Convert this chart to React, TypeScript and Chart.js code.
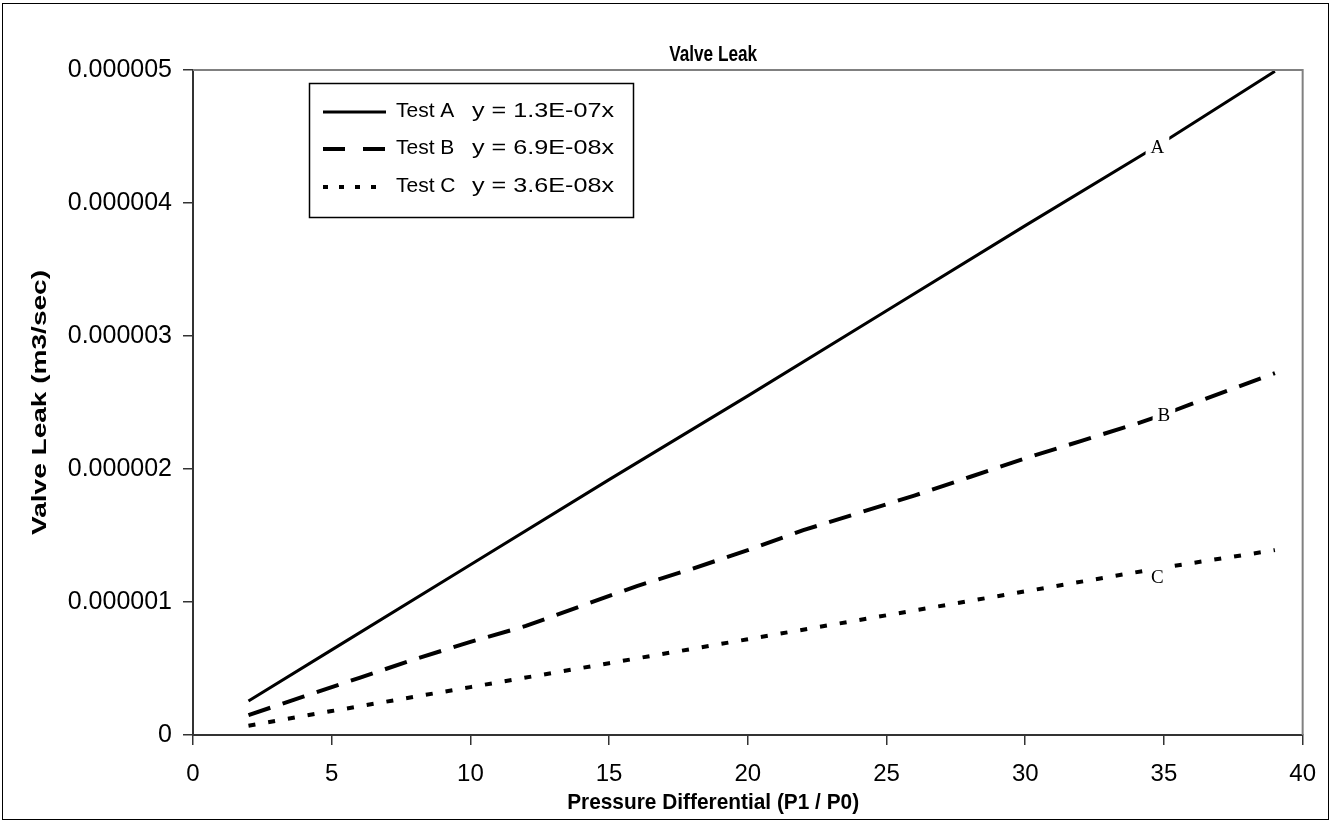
import { useEffect, useRef } from 'react';
import { Chart, registerables } from 'chart.js';

Chart.register(...registerables);

const SANS = "Arial, 'Liberation Sans', sans-serif";
const SERIF = "'Times New Roman', 'Liberation Serif', serif";

const CHART_TITLE = 'Valve Leak';
const X_TITLE = 'Pressure Differential (P1 / P0)';
const Y_TITLE = 'Valve Leak (m3/sec)';
const SERIES_NAMES = ['Test A', 'Test B', 'Test C'];
const TREND_LABELS = ['y = 1.3E-07x', 'y = 6.9E-08x', 'y = 3.6E-08x'];
const POINT_LABELS = ['A', 'B', 'C'];

const X_MIN = 0;
const X_MAX = 40;
const X_STEP = 5;
const Y_MIN = 0;
const Y_MAX = 0.000005;
const Y_STEP = 0.000001;

const PRESSURE_A = [2, 5, 10, 15, 20, 25, 30, 35, 39];
const LEAK_A = [2.56e-7, 6.4e-7, 1.28e-6, 1.92e-6, 2.55e-6, 3.19e-6, 3.83e-6, 4.46e-6, 4.99e-6];

const PRESSURE_B = [2, 4, 6, 8, 10, 12, 14, 16, 18, 20, 22, 24, 26, 28, 30, 32, 34, 35, 36, 39];
const LEAK_B = [1.5e-7, 2.9e-7, 4.3e-7, 5.7e-7, 7.0e-7, 8.2e-7, 9.7e-7, 1.12e-6, 1.25e-6, 1.39e-6, 1.54e-6, 1.67e-6, 1.8e-6, 1.94e-6, 2.08e-6, 2.21e-6, 2.34e-6, 2.41e-6, 2.49e-6, 2.72e-6];

const PRESSURE_C = [2, 5, 10, 15, 20, 25, 30, 35, 39];
const LEAK_C = [7.0e-8, 1.8e-7, 3.6e-7, 5.4e-7, 7.2e-7, 9.0e-7, 1.08e-6, 1.26e-6, 1.39e-6];

const LABEL_AT_X = 35;

const toPoints = (xs: number[], ys: number[]) => xs.map((v, i) => ({ x: v, y: ys[i] }));

const SERIES = [
  { x: PRESSURE_A, y: LEAK_A, dash: [] as number[], width: 3, legendDash: [] as number[], lOff: [-6.5, 5] },
  { x: PRESSURE_B, y: LEAK_B, dash: [23, 13], width: 4, legendDash: [22, 18], lOff: [0, 1] },
  { x: PRESSURE_C, y: LEAK_C, dash: [7, 13], width: 4, legendDash: [5, 11], lOff: [-6.5, 10] },
];

// draw text centred at (x, y) stretched/condensed along its own direction to a target length
function fitText(ctx: any, text: string, x: number, y: number, len: number, rot = 0) {
  const w = ctx.measureText(text).width;
  ctx.save();
  ctx.translate(x, y);
  if (rot) ctx.rotate(rot);
  ctx.scale(len / w, 1);
  ctx.textAlign = 'center';
  ctx.textBaseline = 'middle';
  ctx.fillText(text, 0, 0);
  ctx.restore();
}

const decor = {
  id: 'decor',
  afterDraw(chart: any) {
    const { ctx, chartArea } = chart;
    const { left, top, right, bottom } = chartArea;
    const xs = chart.scales.x;
    const ys = chart.scales.y;
    ctx.save();

    // outer border
    ctx.strokeStyle = '#000';
    ctx.lineWidth = 1;
    ctx.strokeRect(2.5, 3.5, 1326, 816);

    // plot frame top & right
    ctx.strokeStyle = '#808080';
    ctx.lineWidth = 2;
    ctx.beginPath();
    ctx.moveTo(left, top);
    ctx.lineTo(right, top);
    ctx.lineTo(right, bottom);
    ctx.stroke();

    // titles
    ctx.fillStyle = '#000';
    const cx = xs.getPixelForValue(18.75);
    ctx.font = `bold 22px ${SANS}`;
    fitText(ctx, CHART_TITLE, cx, 55, 88);
    ctx.font = `bold 22px ${SANS}`;
    fitText(ctx, X_TITLE, cx, 803, 292);
    ctx.font = `bold 21px ${SANS}`;
    fitText(ctx, Y_TITLE, 40, (top + bottom) / 2, 265, -Math.PI / 2);

    // point labels
    ctx.font = `19px ${SERIF}`;
    ctx.textAlign = 'center';
    ctx.textBaseline = 'middle';
    SERIES.forEach((s, i) => {
      const idx = s.x.indexOf(LABEL_AT_X);
      const px = xs.getPixelForValue(LABEL_AT_X) + s.lOff[0];
      const py = ys.getPixelForValue(s.y[idx]) + s.lOff[1];
      const w = ctx.measureText(POINT_LABELS[i]).width;
      ctx.fillStyle = '#fff';
      ctx.fillRect(px - w / 2 - 5, py - 14, w + 10, 24);
      ctx.fillStyle = '#000';
      ctx.fillText(POINT_LABELS[i], px, py + 1);
    });

    // legend
    const bx = 309, by = 83, bw = 324, bh = 134;
    ctx.fillStyle = '#fff';
    ctx.fillRect(bx, by, bw, bh);
    ctx.strokeStyle = '#000';
    ctx.lineWidth = 1.5;
    ctx.strokeRect(bx + 0.5, by + 0.5, bw, bh);
    const rows = [111, 148, 186];
    SERIES.forEach((s, i) => {
      const ry = rows[i];
      ctx.strokeStyle = '#000';
      ctx.lineWidth = s.width;
      ctx.setLineDash(s.legendDash);
      ctx.beginPath();
      ctx.moveTo(323, ry + 1);
      ctx.lineTo(386, ry + 1);
      ctx.stroke();
      ctx.setLineDash([]);
      ctx.fillStyle = '#000';
      ctx.textAlign = 'left';
      ctx.textBaseline = 'middle';
      ctx.font = `21px ${SANS}`;
      ctx.fillText(SERIES_NAMES[i], 396, ry);
      const tw = ctx.measureText(TREND_LABELS[i]).width;
      ctx.save();
      ctx.translate(472, ry);
      ctx.scale(142 / tw, 1);
      ctx.fillText(TREND_LABELS[i], 0, 0);
      ctx.restore();
    });

    ctx.restore();
  },
};

export default function App() {
  const ref = useRef<HTMLCanvasElement | null>(null);
  useEffect(() => {
    if (!ref.current) return;
    const chart = new Chart(ref.current, {
      type: 'line',
      data: {
        datasets: SERIES.map((s, i) => ({
          label: SERIES_NAMES[i],
          data: toPoints(s.x, s.y),
          borderColor: '#000',
          backgroundColor: '#000',
          borderWidth: s.width,
          borderDash: s.dash,
          borderCapStyle: 'butt',
          pointRadius: 0,
          tension: 0,
          fill: false,
        })),
      },
      options: {
        animation: false,
        responsive: false,
        devicePixelRatio: 1,
        layout: { padding: { left: 0, top: 70, right: 27, bottom: 0 } },
        plugins: { legend: { display: false }, tooltip: { enabled: false }, title: { display: false } },
        scales: {
          x: {
            type: 'linear',
            min: X_MIN,
            max: X_MAX,
            afterFit: (s: any) => { s.height = 88; },
            ticks: { stepSize: X_STEP, color: '#000', font: { family: SANS, size: 24 }, padding: 15, maxRotation: 0 },
            grid: { drawOnChartArea: false, drawTicks: true, tickLength: 10, color: '#333', lineWidth: 1.5 },
            border: { display: true, color: '#333', width: 2 },
          },
          y: {
            type: 'linear',
            min: Y_MIN,
            max: Y_MAX,
            afterFit: (s: any) => { s.width = 193; },
            ticks: {
              stepSize: Y_STEP,
              color: '#000',
              font: { family: SANS, size: 25 },
              padding: 11,
              callback: (v: any) => (Number(v) === 0 ? '0' : Number(v).toFixed(6)),
            },
            grid: { drawOnChartArea: false, drawTicks: true, tickLength: 10, color: '#333', lineWidth: 1.5 },
            border: { display: true, color: '#333', width: 2 },
          },
        },
      },
      plugins: [decor],
    });
    return () => chart.destroy();
  }, []);
  return (
    <div style={{ position: 'fixed', left: 0, top: 0, width: 1331, height: 823, background: '#fff' }}>
      <canvas ref={ref} width={1331} height={823} style={{ display: 'block' }} />
    </div>
  );
}
